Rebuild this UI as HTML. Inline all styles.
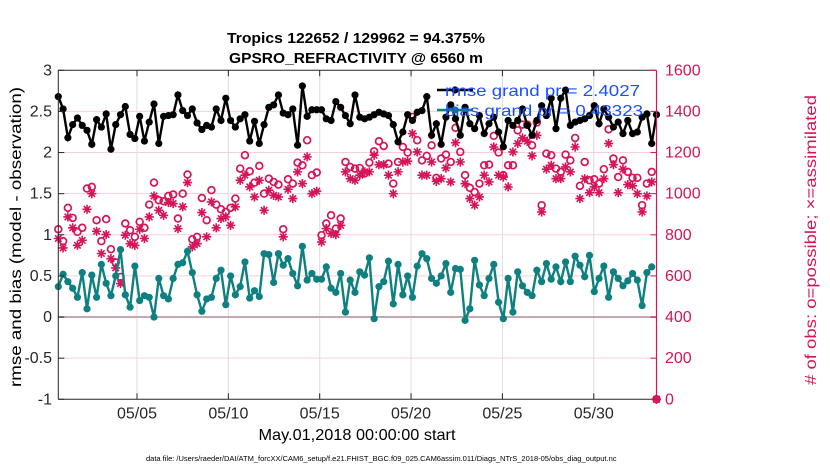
<!DOCTYPE html>
<html><head><meta charset="utf-8">
<style>
html,body{margin:0;padding:0;background:#fff;}
svg{display:block;font-family:"Liberation Sans",sans-serif;}
</style></head>
<body>
<svg id="chart" width="830" height="470" viewBox="0 0 830 470" xmlns="http://www.w3.org/2000/svg">
<g id="grid"></g>
<g id="series"></g>
<g id="axes"></g>
<text x="356" y="43" text-anchor="middle" font-size="15" font-weight="bold" textLength="258" lengthAdjust="spacingAndGlyphs">Tropics 122652 / 129962 = 94.375%</text>
<text x="356" y="63" text-anchor="middle" font-size="15" font-weight="bold" textLength="254" lengthAdjust="spacingAndGlyphs">GPSRO_REFRACTIVITY @ 6560 m</text>
<text x="357" y="440" text-anchor="middle" font-size="16" textLength="197" lengthAdjust="spacingAndGlyphs">May.01,2018 00:00:00 start</text>
<text transform="translate(21,237) rotate(-90)" text-anchor="middle" font-size="16" textLength="300" lengthAdjust="spacingAndGlyphs">rmse and bias (model - observation)</text>
<text transform="translate(816,240) rotate(-90)" text-anchor="middle" font-size="16" fill="#d6145a" textLength="290" lengthAdjust="spacingAndGlyphs"># of obs: o=possible; ×=assimilated</text>
<text x="146" y="461" font-size="7.5">data file: /Users/raeder/DAI/ATM_forcXX/CAM6_setup/f.e21.FHIST_BGC.f09_025.CAM6assim.011/Diags_NTrS_2018-05/obs_diag_output.nc</text>
<g id="legend"></g>
</svg>
<script>
const rmse=[2.68,2.53,2.18,2.34,2.42,2.33,2.27,2.10,2.40,2.31,2.47,2.04,2.34,2.46,2.56,2.22,2.17,2.44,2.14,2.37,2.59,2.11,2.44,2.45,2.46,2.70,2.51,2.45,2.53,2.36,2.28,2.33,
2.31,2.53,2.39,2.66,2.39,2.31,2.41,2.46,2.14,2.38,2.11,2.34,2.55,2.58,2.70,2.48,2.46,2.53,2.09,2.81,2.44,2.52,2.52,2.52,2.41,2.39,2.62,2.55,2.45,2.35,2.70,
2.43,2.41,2.43,2.46,2.49,2.47,2.45,2.34,2.13,2.25,2.46,2.39,2.49,2.51,2.68,2.21,2.35,2.10,2.43,2.58,2.41,2.21,2.55,2.35,2.29,2.45,2.23,2.35,2.43,2.25,2.07,2.39,2.33,
2.39,2.53,2.33,2.21,2.39,2.57,2.45,2.66,2.29,2.66,2.76,2.33,2.37,2.39,2.41,2.45,2.57,2.35,2.53,2.43,2.31,2.37,2.23,2.39,2.23,2.25,2.43,2.47,2.11,2.46];
const bias=[0.37,0.52,0.43,0.35,0.24,0.54,0.10,0.51,0.24,0.64,0.41,0.26,0.50,0.82,0.27,0.12,0.62,0.20,0.26,0.24,0.00,0.47,0.26,0.22,0.47,0.64,0.66,0.80,0.54,0.27,0.07,0.22,
0.24,0.47,0.57,0.15,0.50,0.27,0.37,0.67,0.23,0.32,0.25,0.77,0.76,0.42,0.77,0.63,0.71,0.53,0.38,0.86,0.45,0.53,0.46,0.46,0.61,0.35,0.30,0.53,0.06,0.45,
0.30,0.55,0.51,0.72,-0.02,0.37,0.43,0.68,0.16,0.64,0.27,0.50,0.24,0.62,0.77,0.71,0.47,0.41,0.50,0.65,0.30,0.59,0.58,-0.04,0.10,0.69,0.39,0.26,0.47,0.64,0.18,-0.02,0.47,
0.06,0.55,0.38,0.30,0.26,0.57,0.43,0.65,0.46,0.61,0.43,0.67,0.43,0.74,0.63,0.49,0.75,0.31,0.47,0.62,0.24,0.55,0.47,0.38,0.44,0.53,0.45,0.14,0.54,0.61];
const possible=[827,769,931,882,814,834,1025,1033,871,769,876,730,665,595,855,822,790,863,834,947,1054,968,963,989,996,879,1000,1093,778,790,979,871,
1017,947,924,911,931,976,1122,1187,1109,1054,1135,1000,1073,1057,1044,827,1070,1049,1151,1138,1260,1090,1103,798,855,895,830,879,1154,1130,
1122,1125,1098,1151,1206,1255,1232,1146,1049,1154,1227,1200,1373,1260,1162,1184,1235,1077,1171,1190,1154,1320,1203,1090,1028,1008,1049,1138,1141,1281,1200,1090,1138,
1138,1308,1336,1336,1235,1346,944,1195,1187,1122,1106,1190,1162,1271,1038,1154,1065,1070,1049,1119,1313,1171,1081,1162,1106,1077,1077,944,1049,1106,0];
const assimilated=[782,736,887,834,749,773,924,1000,817,709,801,684,639,563,798,757,749,827,782,887,989,919,895,957,952,830,936,1054,741,757,908,790,
960,834,879,887,846,936,1065,1090,1033,984,1065,919,1017,992,984,790,1021,976,1106,1049,1179,1000,1012,765,830,806,801,846,1106,1073,
1065,1090,1106,1106,1187,1141,1141,1090,1000,1106,1154,1158,1292,1203,1090,1090,1154,1060,1073,1125,1057,1248,1154,1049,976,944,984,1090,1057,1227,1090,1081,1033,
1203,1244,1271,1255,1184,1284,911,1119,1138,1073,1073,1130,1106,1227,976,1073,1005,1033,1005,1073,1244,1141,1005,1119,1044,1038,1000,911,989,1057,0];
const dateTicks=["05/05","05/10","05/15","05/20","05/25","05/30"];
const dateTickDays=[5,10,15,20,25,30];
const leftTicks=[-1,-0.5,0,0.5,1,1.5,2,2.5,3];
const rightTicks=[0,200,400,600,800,1000,1200,1400,1600];

const NS="http://www.w3.org/2000/svg";
const L=58.3,R=656.5,T=70.3,B=399.3;
const PINK="#d6145a",TEAL="#0f8080";
function xi(i){return L+i*(651.7-L)/124;}
function xd(d){return 137+(d-5)*18.27;}
function yl(v){return B-(v+1)*(B-T)/4;}
function yr(c){return B-c*(B-T)/1600;}
function mk(tag,attrs,parent){const e=document.createElementNS(NS,tag);for(const k in attrs)e.setAttribute(k,attrs[k]);parent.appendChild(e);return e;}
const grid=document.getElementById('grid'),ser=document.getElementById('series'),axes=document.getElementById('axes'),leg=document.getElementById('legend');

dateTickDays.forEach(d=>{const l=mk('line',{x1:xd(d),x2:xd(d),y1:T,y2:B,stroke:'#dcdcdc','stroke-width':1},grid);

});
rightTicks.forEach(c=>{if(c===0||c===1600)return;const l=mk('line',{x1:L,x2:R,y1:yr(c),y2:yr(c),stroke:'#f5cfdc','stroke-width':1},grid);

});
const zl=mk('line',{x1:L,x2:R,y1:yl(0),y2:yl(0),stroke:'#c8a8b0','stroke-width':2},grid);



function star(x,y,parent,name){
const r=4.6;
const d=`M${x-r},${y}H${x+r}M${x},${y-r}V${y+r}M${x-r*0.7},${y-r*0.7}L${x+r*0.7},${y+r*0.7}M${x-r*0.7},${y+r*0.7}L${x+r*0.7},${y-r*0.7}`;
const p=mk('path',{d:d,stroke:PINK,'stroke-width':1.6,fill:'none'},parent);

}
assimilated.forEach((c,i)=>star(xi(i),yr(c),ser,'assimilated-marker'));
possible.forEach((c,i)=>{const e=mk('circle',{cx:xi(i),cy:yr(c),r:3.4,fill:'none',stroke:PINK,'stroke-width':1.7},ser);

});

function line(arr,color,name){const p=arr.map((v,i)=>(i?'L':'M')+xi(i).toFixed(1)+','+yl(v).toFixed(1)).join('');
const pl=mk('path',{d:p,fill:'none',stroke:color,'stroke-width':2.4},ser);


arr.forEach((v,i)=>{const c=mk('circle',{cx:xi(i),cy:yl(v),r:3.6,fill:color},ser);

});}
line(bias,TEAL,'bias');
line(rmse,'#000','rmse');

const fr=mk('path',{d:`M${L},${B}V${T}H${R}`,fill:'none',stroke:'#262626','stroke-width':1},axes);


const bx=mk('line',{x1:L,x2:R,y1:B,y2:B,stroke:'#262626','stroke-width':1},axes);


const ry=mk('line',{x1:R,x2:R,y1:T,y2:B,stroke:PINK,'stroke-width':1.2},axes);


dateTicks.forEach((t,k)=>{const x=xd(dateTickDays[k]);
mk('line',{x1:x,x2:x,y1:B,y2:B-6,stroke:'#262626'},axes);mk('line',{x1:x,x2:x,y1:T,y2:T+6,stroke:'#262626'},axes);
const tx=mk('text',{x:x,y:B+19,'text-anchor':'middle','font-size':16,fill:'#262626'},axes);tx.textContent=t;

});
leftTicks.forEach(v=>{const y=yl(v);mk('line',{x1:L,x2:L+6,y1:y,y2:y,stroke:'#262626'},axes);
const tx=mk('text',{x:52,y:y+5,'text-anchor':'end','font-size':16,fill:'#262626'},axes);tx.textContent=String(v);

});
rightTicks.forEach(c=>{const y=yr(c);mk('line',{x1:R-6,x2:R,y1:y,y2:y,stroke:PINK},axes);
const tx=mk('text',{x:665,y:y+5,'font-size':16,fill:PINK},axes);tx.textContent=String(c);

});

[['rmse grand pr = 2.4027','#000',90,195],['bias grand pr = 0.43323',TEAL,110,198]].forEach(([t,c,y,w])=>{
mk('line',{x1:437,x2:473,y1:y,y2:y,stroke:c,'stroke-width':2.4},leg);mk('circle',{cx:455,cy:y,r:3.6,fill:c},leg);
const tx=mk('text',{x:445,y:y+6,'font-size':16,fill:'#1a4fff',textLength:w,lengthAdjust:'spacingAndGlyphs'},leg);tx.textContent=t;

});
</script>
</body></html>
